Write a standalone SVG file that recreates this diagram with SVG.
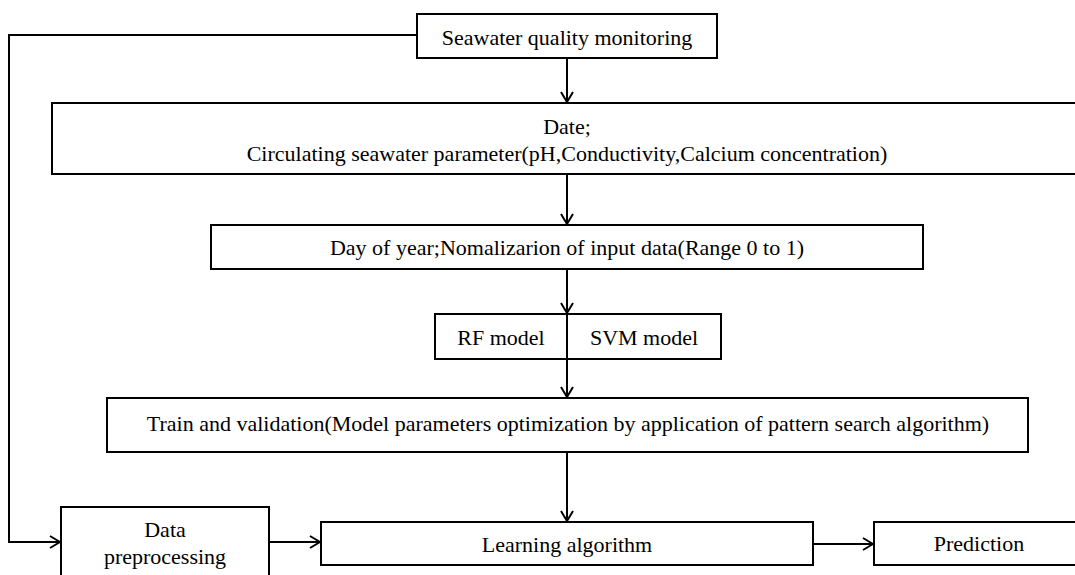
<svg xmlns="http://www.w3.org/2000/svg" width="1075" height="575" viewBox="0 0 1075 575">
<style>
.box{fill:#fff;stroke:#000;stroke-width:2}
.t{font-family:"Liberation Serif","Times New Roman",serif;font-size:22px;fill:#000;text-anchor:middle;dominant-baseline:central}
.c{fill:none;stroke:#000;stroke-width:2}
</style>
<defs>
<marker id="ah" markerWidth="12" markerHeight="14" refX="11" refY="7" orient="auto" markerUnits="userSpaceOnUse">
<polyline points="1,1 11,7 1,13" fill="none" stroke="#000" stroke-width="2"/>
</marker>
</defs>
<rect width="1075" height="575" fill="#fff"/>
<g id="connectors">
<polyline class="c" points="417,35 9,35 9,542 60,542" marker-end="url(#ah)"/>
<line class="c" x1="567" y1="58" x2="567" y2="102" marker-end="url(#ah)"/>
<line class="c" x1="567" y1="174" x2="567" y2="224" marker-end="url(#ah)"/>
<line class="c" x1="567" y1="269" x2="567" y2="313" marker-end="url(#ah)"/>
<line class="c" x1="567" y1="359" x2="567" y2="397" marker-end="url(#ah)"/>
<line class="c" x1="567" y1="452" x2="567" y2="521" marker-end="url(#ah)"/>
<line class="c" x1="269" y1="542" x2="320" y2="542" marker-end="url(#ah)"/>
<line class="c" x1="813" y1="544" x2="873" y2="544" marker-end="url(#ah)"/>
</g>
<g id="seawater">
<rect class="box" x="417" y="14" width="300" height="44"/>
<text class="t" x="567" y="37">Seawater quality monitoring</text>
</g>
<g id="date">
<rect class="box" x="52" y="103" width="1040" height="71"/>
<text class="t" x="567" y="126">Date;</text>
<text class="t" x="567" y="153">Circulating seawater parameter(pH,Conductivity,Calcium concentration)</text>
</g>
<g id="dayofyear">
<rect class="box" x="211" y="225" width="712" height="44"/>
<text class="t" x="567" y="247">Day of year;Nomalizarion of input data(Range 0 to 1)</text>
</g>
<g id="models">
<rect class="box" x="435" y="314" width="286" height="45"/>
<line class="c" x1="567" y1="314" x2="567" y2="359"/>
<text class="t" x="501" y="337">RF model</text>
<text class="t" x="644" y="337">SVM model</text>
</g>
<g id="train">
<rect class="box" x="107" y="398" width="921" height="54"/>
<text class="t" x="568" y="423">Train and validation(Model parameters optimization by application of pattern search algorithm)</text>
</g>
<g id="preprocessing">
<rect class="box" x="61" y="507" width="208" height="80"/>
<text class="t" x="165" y="529">Data</text>
<text class="t" x="165" y="556">preprocessing</text>
</g>
<g id="learning">
<rect class="box" x="321" y="522" width="492" height="43"/>
<text class="t" x="567" y="544">Learning algorithm</text>
</g>
<g id="prediction">
<rect class="box" x="874" y="522" width="220" height="43"/>
<text class="t" x="979" y="543">Prediction</text>
</g>
</svg>
